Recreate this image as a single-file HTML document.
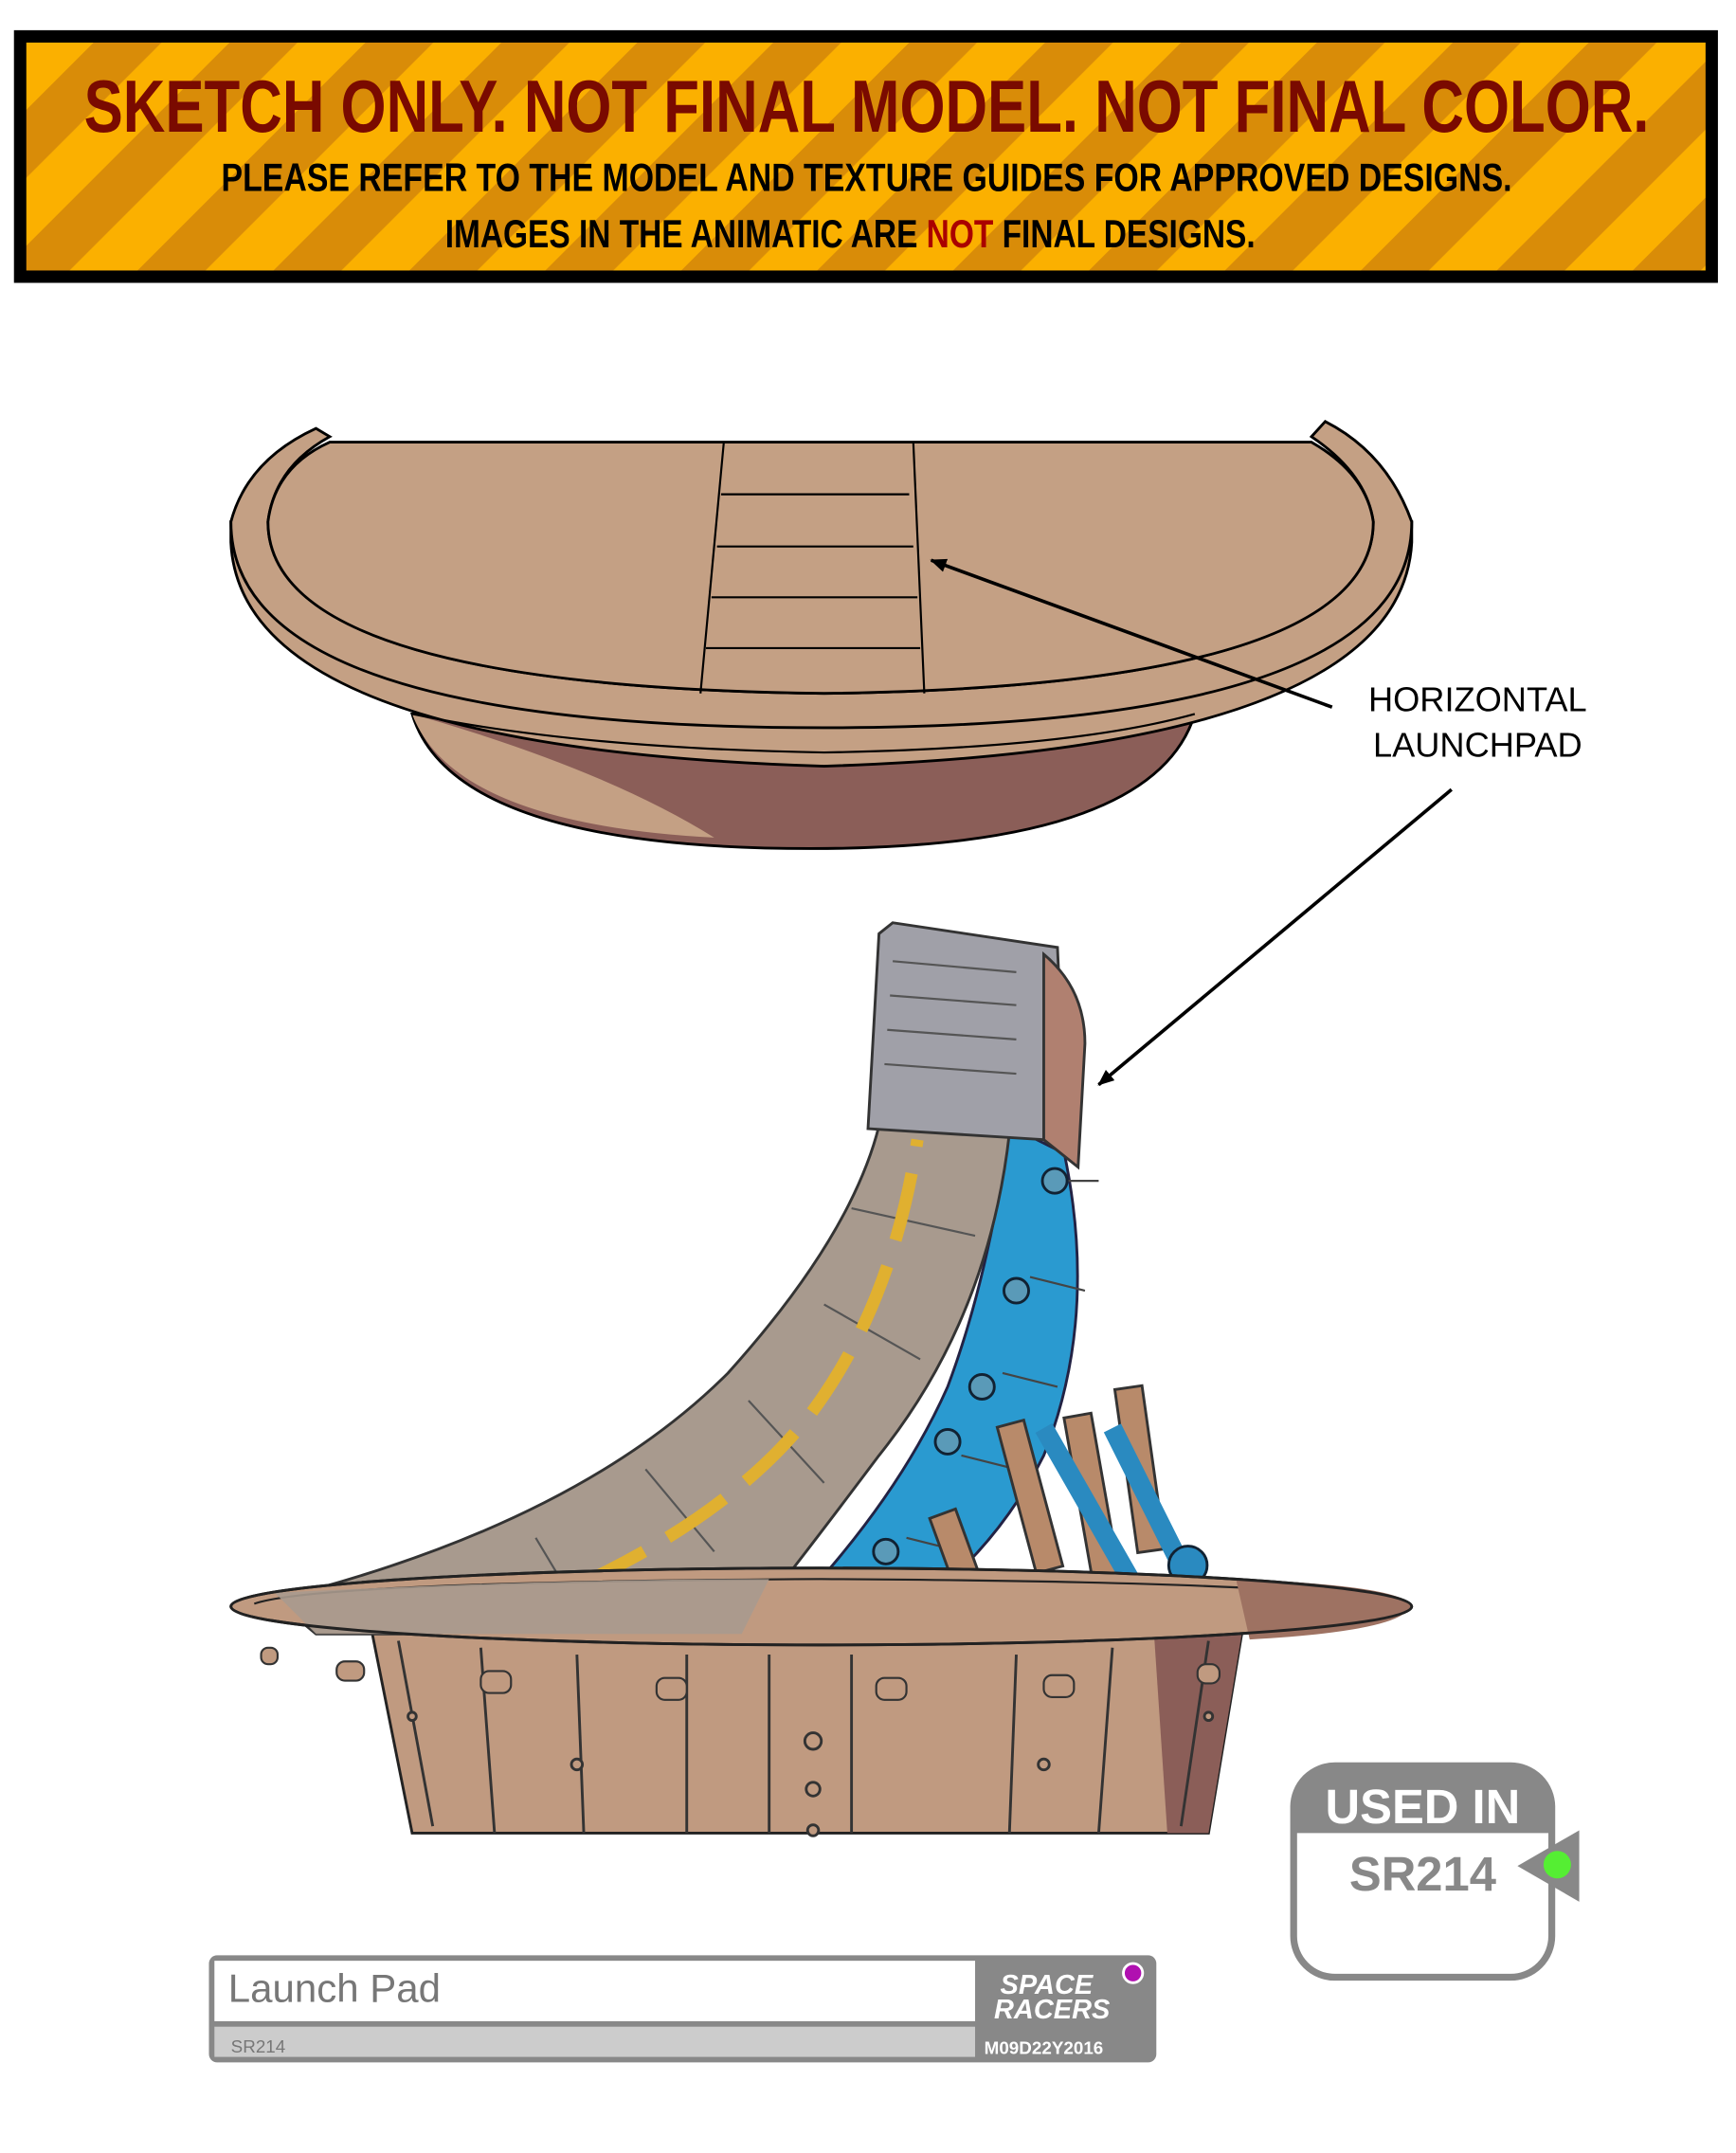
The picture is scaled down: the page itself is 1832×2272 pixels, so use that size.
<!DOCTYPE html>
<html><head><meta charset="utf-8"><style>
html,body{margin:0;padding:0;background:#fff;}
svg{display:block;}
</style></head><body>
<svg width="1832" height="2272" viewBox="0 0 1264 1568" xmlns="http://www.w3.org/2000/svg" font-family="Liberation Sans, sans-serif">
<defs>
<pattern id="st" width="70" height="70" patternUnits="userSpaceOnUse" patternTransform="rotate(45)">
<rect width="70" height="70" fill="#fbb000"/><rect width="35" height="70" fill="#d98c08"/>
</pattern>
<marker id="ah" markerWidth="12" markerHeight="10" refX="11" refY="5" orient="auto" markerUnits="userSpaceOnUse"><path d="M0,0 L12,5 L0,10 z" fill="#000"/></marker>
</defs>
<rect x="10" y="22" width="1241" height="184" fill="#000"/>
<rect x="19" y="31" width="1223" height="166" fill="url(#st)"/>
<text x="631" y="96" text-anchor="middle" font-size="54" font-weight="bold" fill="#7a0a00" textLength="1140" lengthAdjust="spacingAndGlyphs">SKETCH ONLY.   NOT FINAL MODEL.   NOT FINAL COLOR.</text>
<text x="631" y="139" text-anchor="middle" font-size="29" font-weight="bold" fill="#000" textLength="940" lengthAdjust="spacingAndGlyphs">PLEASE REFER TO THE MODEL AND TEXTURE GUIDES FOR APPROVED DESIGNS.</text>
<text x="619" y="180" text-anchor="middle" font-size="29" font-weight="bold" fill="#000" textLength="590" lengthAdjust="spacingAndGlyphs">IMAGES IN THE ANIMATIC ARE <tspan fill="#a00">NOT</tspan> FINAL DESIGNS.</text>

<!-- top dish -->
<path d="M300,520 Q330,618 590,618 Q840,618 870,520 Z" fill="#8b5e58" stroke="#000" stroke-width="2"/>
<path d="M300,520 Q330,600 520,610 Q440,560 300,520 Z" fill="#c4a084"/>
<path d="M168,380 L168,395 Q175,545 600,558 Q1020,545 1028,395 L1028,380 Z" fill="#c4a084" stroke="#000" stroke-width="2"/>
<path d="M168,380 Q168,530 600,530 Q1028,530 1028,380 Q1010,330 965,307 L955,318 Q995,345 1000,380 Q1000,500 600,505 Q195,500 195,380 Q200,340 240,318 L230,312 Q180,335 168,380 Z" fill="#c4a084" stroke="#000" stroke-width="2"/>
<path d="M195,380 Q200,340 240,322 L955,322 Q995,345 1000,380 Q1000,500 600,505 Q195,500 195,380 Z" fill="#c4a084" stroke="#000" stroke-width="2"/>
<path d="M300,520 Q420,545 600,548 Q780,545 870,520" fill="none" stroke="#000" stroke-width="1.5"/>
<path d="M527,322 L510,505 M665,322 L673,505 M525,360 L662,360 M522,398 L665,398 M518,435 L668,435 M514,472 L670,472" stroke="#000" stroke-width="1.5" fill="none"/>
<line x1="970" y1="515" x2="678" y2="408" stroke="#000" stroke-width="2.5" marker-end="url(#ah)"/>
<text x="1076" y="518" text-anchor="middle" font-size="25" fill="#000">HORIZONTAL</text>
<text x="1076" y="551" text-anchor="middle" font-size="25" fill="#000">LAUNCHPAD</text>
<line x1="1057" y1="575" x2="800" y2="790" stroke="#000" stroke-width="2.5" marker-end="url(#ah)"/>

<!-- lower launchpad base -->
<path d="M270,1185 L905,1185 L880,1335 L300,1335 Z" fill="#c09a80" stroke="#222" stroke-width="2"/>
<path d="M840,1185 L905,1185 L880,1335 L850,1335 Z" fill="#8b5e58"/>
<g stroke="#333" stroke-width="2">
<line x1="290" y1="1195" x2="315" y2="1330"/><line x1="350" y1="1200" x2="360" y2="1335"/><line x1="420" y1="1205" x2="425" y2="1335"/><line x1="500" y1="1205" x2="500" y2="1335"/><line x1="560" y1="1205" x2="560" y2="1335"/><line x1="620" y1="1205" x2="620" y2="1335"/><line x1="740" y1="1205" x2="735" y2="1335"/><line x1="810" y1="1200" x2="800" y2="1335"/><line x1="880" y1="1195" x2="860" y2="1330"/>
</g>
<g fill="#c09a80" stroke="#333" stroke-width="2">
<circle cx="592" cy="1268" r="6"/><circle cx="592" cy="1303" r="5"/><circle cx="592" cy="1333" r="4"/><circle cx="420" cy="1285" r="4"/><circle cx="760" cy="1285" r="4"/><circle cx="300" cy="1250" r="3"/><circle cx="880" cy="1250" r="3"/>
</g>
<g fill="#c09a80" stroke="#333" stroke-width="1.5">
<rect x="245" y="1210" width="20" height="14" rx="6"/><rect x="350" y="1217" width="22" height="16" rx="6"/><rect x="478" y="1222" width="22" height="16" rx="6"/><rect x="638" y="1222" width="22" height="16" rx="6"/><rect x="760" y="1220" width="22" height="16" rx="6"/><rect x="872" y="1212" width="16" height="14" rx="6"/><rect x="190" y="1200" width="12" height="12" rx="5"/>
</g>
<!-- blue supports -->
<path d="M735,820 L775,840 Q800,960 760,1060 Q720,1140 640,1190 L560,1190 Q650,1100 690,1010 Q720,930 735,820 Z" fill="#2a9ad0" stroke="#224" stroke-width="2"/>
<g stroke="#444" stroke-width="1.5">
<line x1="765" y1="860" x2="800" y2="860"/><line x1="750" y1="930" x2="790" y2="940"/><line x1="730" y1="1000" x2="770" y2="1010"/><line x1="700" y1="1060" x2="740" y2="1070"/><line x1="660" y1="1120" x2="700" y2="1130"/>
</g>
<g fill="#5a9ab8" stroke="#123" stroke-width="2">
<circle cx="768" cy="860" r="9"/><circle cx="740" cy="940" r="9"/><circle cx="715" cy="1010" r="9"/><circle cx="690" cy="1050" r="9"/><circle cx="645" cy="1130" r="9"/>
</g>
<g fill="#b88a6a" stroke="#333" stroke-width="2">
<rect x="740" y="1035" width="20" height="110" transform="rotate(-15 750 1090)"/>
<rect x="785" y="1030" width="20" height="120" transform="rotate(-10 795 1090)"/>
<rect x="820" y="1010" width="20" height="120" transform="rotate(-8 830 1070)"/>
<rect x="690" y="1100" width="20" height="80" transform="rotate(-20 700 1140)"/>
</g>
<path d="M760,1040 L840,1180" stroke="#2a8ac0" stroke-width="14"/>
<path d="M810,1040 L875,1170" stroke="#2a8ac0" stroke-width="14"/>
<g fill="#2a8ac0" stroke="#123" stroke-width="2">
<circle cx="820" cy="1160" r="14"/><circle cx="865" cy="1140" r="14"/><circle cx="775" cy="1170" r="12"/>
</g>
<!-- ramp -->
<path d="M200,1165 Q420,1110 530,1000 Q620,900 640,820 L735,825 Q720,960 640,1060 Q580,1140 540,1190 L230,1190 Z" fill="#a89a8e" stroke="#333" stroke-width="2"/>
<g stroke="#555" stroke-width="1.5">
<line x1="300" y1="1150" x2="330" y2="1185"/><line x1="390" y1="1120" x2="420" y2="1170"/><line x1="470" y1="1070" x2="520" y2="1130"/><line x1="545" y1="1020" x2="600" y2="1080"/><line x1="600" y1="950" x2="670" y2="990"/><line x1="620" y1="880" x2="710" y2="900"/>
</g>
<path d="M360,1180 Q520,1120 590,1030 Q650,950 668,830" fill="none" stroke="#e0b030" stroke-width="9" stroke-dasharray="50,20"/>
<path d="M640,680 L650,672 L770,690 L775,800 L760,830 L632,822 Z" fill="#a0a0a8" stroke="#333" stroke-width="2"/>
<g stroke="#555" stroke-width="1.5"><line x1="650" y1="700" x2="740" y2="708"/><line x1="648" y1="725" x2="740" y2="732"/><line x1="646" y1="750" x2="740" y2="757"/><line x1="644" y1="775" x2="740" y2="782"/></g>
<path d="M760,695 Q790,720 790,760 L785,850 L760,830 Z" fill="#b08070" stroke="#333" stroke-width="2"/>
<!-- rim -->
<ellipse cx="598" cy="1170" rx="430" ry="28" fill="#c09a80" stroke="#222" stroke-width="2"/>
<path d="M185,1168 Q230,1152 598,1150 Q970,1152 1012,1168" fill="none" stroke="#222" stroke-width="1.5"/>
<path d="M200,1160 Q400,1150 560,1150 L540,1190 L230,1190 Z" fill="#a89a8e" opacity="0.9"/>
<path d="M900,1150 Q1025,1155 1027,1170 Q1020,1188 910,1194 Z" fill="#9e7262"/>
<ellipse cx="598" cy="1170" rx="430" ry="28" fill="none" stroke="#222" stroke-width="2"/>

<!-- used in badge -->
<rect x="942" y="1286" width="188" height="154" rx="30" fill="#fff" stroke="#888" stroke-width="5"/>
<path d="M942,1335 L942,1316 Q942,1286 972,1286 L1100,1286 Q1130,1286 1130,1316 L1130,1335 Z" fill="#888"/>
<text x="1036" y="1328" text-anchor="middle" font-size="35" font-weight="bold" fill="#fff">USED IN</text>
<text x="1036" y="1377" text-anchor="middle" font-size="35" font-weight="bold" fill="#888">SR214</text>
<path d="M1150,1333 L1150,1385 L1105,1359 Z" fill="#888"/>
<circle cx="1134" cy="1358" r="10" fill="#5e3"/>

<!-- title bar -->
<rect x="152" y="1424" width="690" height="78" rx="6" fill="#888"/>
<rect x="156" y="1428" width="554" height="44" fill="#fff"/>
<rect x="156" y="1476" width="554" height="22" fill="#ccc"/>
<text x="166" y="1458" font-size="29" fill="#777">Launch Pad</text>
<text x="168" y="1495" font-size="13" fill="#777">SR214</text>
<text x="762" y="1452" text-anchor="middle" font-size="20" font-weight="bold" font-style="italic" fill="#fff">SPACE</text>
<text x="766" y="1470" text-anchor="middle" font-size="20" font-weight="bold" font-style="italic" fill="#fff">RACERS</text>
<circle cx="825" cy="1437" r="7" fill="#b010b0" stroke="#fff" stroke-width="2"/>
<text x="760" y="1496" text-anchor="middle" font-size="13" font-weight="bold" fill="#fff">M09D22Y2016</text>
</svg>
</body></html>
